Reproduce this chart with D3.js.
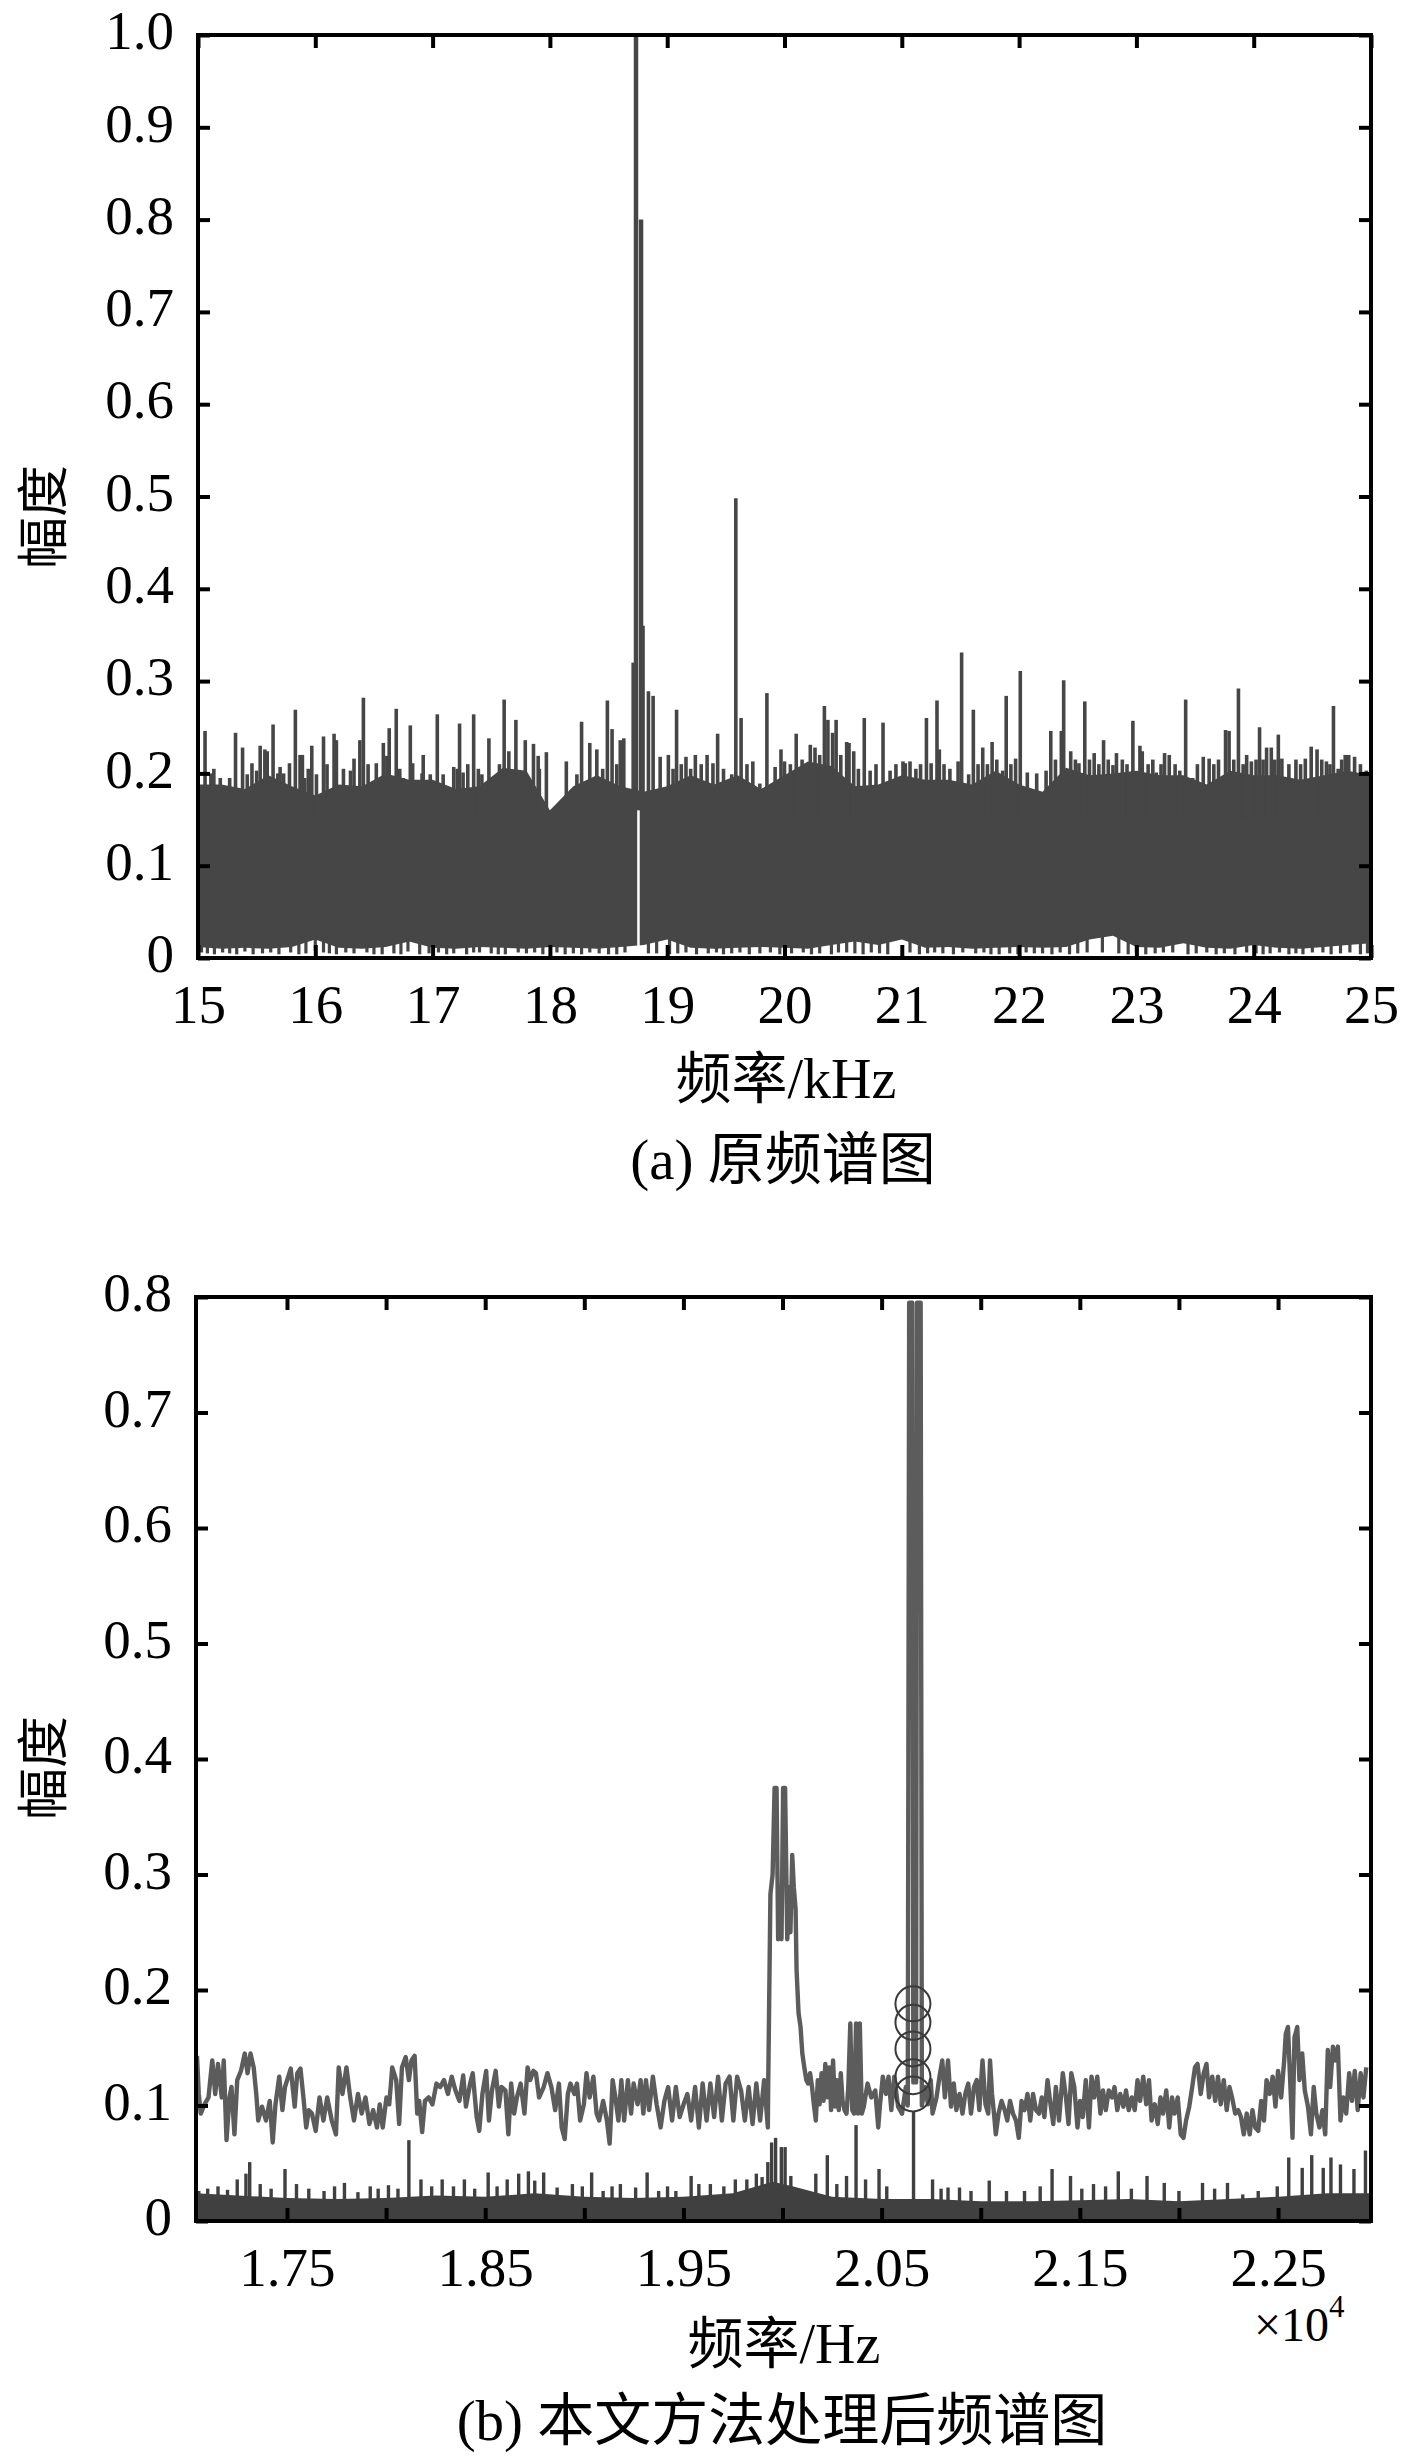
<!DOCTYPE html>
<meta charset="utf-8">
<style>
body { margin: 0; background: #fff; }
svg text { font-family: "Liberation Serif", "Noto Sans CJK SC", serif; fill: #000; }
</style>
<body>
<script src="https://d3js.org/d3.v7.min.js"></script>
<script>

// ---------- panel (a): original spectrum, kHz ----------
var gridA = [15.0,15.2,15.4,15.6,15.8,16.0,16.2,16.4,16.6,16.8,17.0,17.2,17.4,17.6,17.8,18.0,18.2,18.4,18.6,18.8,
             19.0,19.2,19.4,19.6,19.8,20.0,20.2,20.4,20.6,20.8,21.0,21.2,21.4,21.6,21.8,22.0,22.2,22.4,22.6,22.8,
             23.0,23.2,23.4,23.6,23.8,24.0,24.2,24.4,24.6,24.8,25.0];
// upper edge of the dense noise band
var bandTopA = [0.188,0.188,0.183,0.198,0.186,0.176,0.188,0.186,0.2,0.193,0.193,0.183,0.186,0.206,0.203,0.16,0.186,0.198,0.186,0.18,
                0.186,0.198,0.188,0.198,0.183,0.198,0.213,0.208,0.186,0.188,0.198,0.193,0.193,0.188,0.203,0.188,0.18,0.206,0.198,0.2,
                0.203,0.198,0.198,0.188,0.203,0.198,0.198,0.193,0.198,0.203,0.198];
// lower edge of the dense noise band
var bandBotA = [0.012,0.01,0.011,0.01,0.012,0.02,0.011,0.01,0.012,0.018,0.011,0.01,0.012,0.011,0.01,0.012,0.011,0.01,0.012,0.014,
                0.02,0.011,0.01,0.011,0.012,0.011,0.01,0.014,0.018,0.014,0.02,0.011,0.012,0.01,0.011,0.012,0.011,0.012,0.02,0.024,
                0.012,0.011,0.016,0.011,0.01,0.014,0.011,0.01,0.012,0.014,0.016];
// single lines sticking out of the band
var spikesA = [
  [15.06,0.246],[15.11,0.2],[15.135,0.205],[15.19,0.195],[15.27,0.195],[15.32,0.244],[15.38,0.228],[15.42,0.199],[15.46,0.211],
  [15.50,0.203],[15.53,0.230],[15.57,0.226],[15.59,0.224],[15.64,0.253],[15.68,0.2],[15.70,0.207],[15.73,0.2],[15.76,0.185],
  [15.78,0.211],[15.83,0.269],[15.87,0.22],[15.89,0.220],[15.91,0.195],[15.94,0.205],[15.97,0.230],[16.01,0.199],[16.07,0.240],
  [16.10,0.21],[16.16,0.243],[16.18,0.236],[16.24,0.205],[16.30,0.203],[16.33,0.216],[16.38,0.236],[16.41,0.282],[16.45,0.21],
  [16.52,0.211],[16.58,0.233],[16.61,0.219],[16.63,0.249],[16.69,0.270],[16.72,0.205],[16.75,0.195],[16.81,0.252],[16.83,0.211],
  [16.91,0.2],[16.92,0.220],[16.98,0.199],[17.04,0.264],[17.09,0.199],[17.18,0.207],[17.21,0.205],[17.23,0.254],[17.26,0.201],
  [17.30,0.21],[17.35,0.264],[17.39,0.205],[17.42,0.199],[17.48,0.238],[17.52,0.195],[17.57,0.21],[17.61,0.280],[17.65,0.224],
  [17.71,0.258],[17.79,0.236],[17.86,0.232],[17.90,0.219],[17.91,0.205],[17.97,0.223],[18.14,0.213],[18.23,0.199],[18.27,0.256],
  [18.34,0.233],[18.40,0.226],[18.45,0.205],[18.49,0.279],[18.53,0.248],[18.57,0.21],[18.60,0.236],[18.63,0.238],[18.71,0.320],
  [18.84,0.289],[18.88,0.284],[18.94,0.218],[19.01,0.22],[19.05,0.205],[19.08,0.269],[19.12,0.21],[19.16,0.218],[19.20,0.205],
  [19.24,0.22],[19.29,0.21],[19.34,0.22],[19.39,0.211],[19.43,0.243],[19.48,0.205],[19.55,0.199],[19.585,0.498],[19.63,0.26],
  [19.68,0.21],[19.73,0.213],[19.79,0.189],[19.85,0.287],[19.92,0.207],[19.97,0.226],[20.00,0.213],[20.05,0.21],[20.10,0.243],
  [20.15,0.215],[20.22,0.231],[20.26,0.228],[20.30,0.22],[20.34,0.273],[20.37,0.258],[20.41,0.244],[20.44,0.258],[20.48,0.22],
  [20.53,0.234],[20.55,0.233],[20.59,0.224],[20.63,0.205],[20.68,0.26],[20.73,0.203],[20.78,0.21],[20.84,0.255],[20.90,0.203],
  [20.95,0.21],[21.01,0.213],[21.03,0.211],[21.07,0.213],[21.12,0.205],[21.16,0.21],[21.21,0.26],[21.25,0.211],[21.30,0.279],
  [21.32,0.226],[21.36,0.21],[21.41,0.205],[21.48,0.213],[21.51,0.331],[21.57,0.199],[21.61,0.269],[21.65,0.21],[21.69,0.228],
  [21.73,0.21],[21.77,0.234],[21.81,0.215],[21.86,0.203],[21.89,0.284],[21.93,0.21],[21.97,0.216],[22.01,0.311],[22.07,0.201],
  [22.15,0.2],[22.23,0.203],[22.27,0.246],[22.31,0.215],[22.36,0.246],[22.38,0.301],[22.44,0.224],[22.48,0.215],[22.51,0.211],
  [22.56,0.278],[22.60,0.215],[22.64,0.222],[22.68,0.21],[22.72,0.236],[22.76,0.215],[22.80,0.209],[22.83,0.222],[22.88,0.215],
  [22.92,0.21],[22.97,0.257],[23.03,0.230],[23.05,0.224],[23.10,0.21],[23.14,0.215],[23.17,0.201],[23.21,0.21],[23.24,0.222],
  [23.28,0.22],[23.33,0.21],[23.37,0.203],[23.42,0.280],[23.48,0.195],[23.52,0.21],[23.57,0.218],[23.62,0.216],[23.66,0.21],
  [23.70,0.215],[23.76,0.247],[23.79,0.246],[23.83,0.215],[23.87,0.292],[23.91,0.21],[23.94,0.22],[23.98,0.213],[24.02,0.215],
  [24.05,0.250],[24.08,0.215],[24.11,0.228],[24.15,0.228],[24.18,0.215],[24.21,0.242],[24.24,0.216],[24.30,0.21],[24.36,0.215],
  [24.40,0.21],[24.44,0.216],[24.49,0.229],[24.54,0.226],[24.58,0.215],[24.62,0.213],[24.65,0.21],[24.68,0.273],[24.72,0.205],
  [24.75,0.215],[24.78,0.220],[24.81,0.22],[24.86,0.218],[24.91,0.21],[24.96,0.203]
];
// the main tone near 18.75 kHz
var peakA = [[18.734,1.0],[18.777,0.8],[18.79,0.36]];
var notchA = [[18.755,0.16]];
// lines that drop almost to zero
var dipsA = [
  [15.03,0.006],[15.08,0.005],[15.14,0.004],[15.21,0.006],[15.27,0.005],[15.33,0.004],[15.40,0.007],[15.47,0.004],[15.55,0.005],
  [15.62,0.006],[15.69,0.004],[15.79,0.006],[15.86,0.004],[15.92,0.005],[16.00,0.008],[16.07,0.006],[16.12,0.005],[16.18,0.004],
  [16.26,0.006],[16.33,0.005],[16.44,0.006],[16.50,0.004],[16.57,0.004],[16.67,0.005],[16.73,0.004],[16.79,0.007],[16.89,0.004],
  [16.97,0.005],[17.05,0.006],[17.12,0.004],[17.18,0.005],[17.29,0.004],[17.35,0.006],[17.40,0.006],[17.50,0.005],[17.56,0.004],
  [17.62,0.004],[17.73,0.006],[17.80,0.005],[17.87,0.006],[17.94,0.004],[18.06,0.006],[18.13,0.004],[18.20,0.005],[18.27,0.004],
  [18.34,0.006],[18.42,0.005],[18.50,0.004],[18.57,0.004],[18.64,0.006],[18.84,0.005],[18.91,0.005],[19.02,0.004],[19.09,0.005],
  [19.16,0.006],[19.25,0.004],[19.35,0.005],[19.42,0.006],[19.48,0.004],[19.55,0.005],[19.62,0.006],[19.70,0.004],[19.79,0.005],
  [19.88,0.006],[19.96,0.004],[20.06,0.005],[20.16,0.006],[20.23,0.004],[20.30,0.005],[20.40,0.004],[20.46,0.006],[20.53,0.006],
  [20.60,0.005],[20.67,0.004],[20.74,0.006],[20.81,0.005],[20.88,0.004],[21.07,0.006],[21.15,0.004],[21.22,0.005],[21.28,0.006],
  [21.35,0.005],[21.44,0.004],[21.52,0.006],[21.63,0.005],[21.70,0.006],[21.76,0.004],[21.83,0.004],[21.92,0.005],[21.99,0.004],
  [22.06,0.006],[22.13,0.005],[22.20,0.005],[22.28,0.004],[22.35,0.006],[22.43,0.004],[22.50,0.005],[22.58,0.006],[22.71,0.006],
  [22.85,0.005],[22.93,0.004],[23.00,0.006],[23.08,0.004],[23.16,0.005],[23.23,0.006],[23.31,0.006],[23.44,0.004],[23.51,0.005],
  [23.60,0.006],[23.68,0.004],[23.75,0.005],[23.84,0.004],[23.94,0.006],[24.02,0.005],[24.08,0.004],[24.14,0.005],[24.22,0.006],
  [24.30,0.004],[24.36,0.005],[24.42,0.004],[24.50,0.006],[24.59,0.006],[24.66,0.004],[24.74,0.005],[24.82,0.006],[24.91,0.004],
  [24.97,0.005]
];
var xTicksA = [15,16,17,18,19,20,21,22,23,24,25];
var yTicksA = [0,0.1,0.2,0.3,0.4,0.5,0.6,0.7,0.8,0.9,1.0];

// ---------- panel (b): processed spectrum, x10^4 Hz ----------
var traceB = [
  [1.7046,0.143],[1.7055,0.110],[1.7065,0.093],[1.7084,0.101],[1.7104,0.107],[1.7123,0.139],[1.7138,0.110],[1.7152,0.136],
  [1.7171,0.107],[1.7181,0.139],[1.7195,0.070],[1.7210,0.107],[1.7220,0.116],[1.7235,0.075],[1.7249,0.122],[1.7268,0.130],
  [1.7287,0.145],[1.7301,0.128],[1.7316,0.145],[1.7332,0.133],[1.7345,0.110],[1.7355,0.087],[1.7374,0.099],[1.7394,0.087],
  [1.7413,0.104],[1.7428,0.068],[1.7442,0.101],[1.7461,0.125],[1.7477,0.096],[1.7490,0.116],[1.7519,0.132],[1.7539,0.099],
  [1.7552,0.128],[1.7568,0.132],[1.7583,0.107],[1.7597,0.081],[1.7610,0.096],[1.7626,0.093],[1.7645,0.078],[1.7664,0.107],
  [1.7684,0.087],[1.7703,0.107],[1.7726,0.087],[1.7747,0.075],[1.7761,0.133],[1.7780,0.110],[1.7800,0.133],[1.7819,0.107],
  [1.7838,0.087],[1.7858,0.110],[1.7877,0.093],[1.7896,0.107],[1.7916,0.084],[1.7935,0.096],[1.7954,0.081],[1.7968,0.101],
  [1.7983,0.081],[1.8002,0.107],[1.8016,0.101],[1.8031,0.133],[1.8051,0.122],[1.8066,0.084],[1.8080,0.133],[1.8099,0.142],
  [1.8115,0.122],[1.8128,0.139],[1.8144,0.143],[1.8157,0.093],[1.8167,0.104],[1.8182,0.077],[1.8196,0.104],[1.8215,0.107],
  [1.8234,0.101],[1.8254,0.119],[1.8273,0.116],[1.8292,0.122],[1.8312,0.110],[1.8331,0.125],[1.8350,0.113],[1.8370,0.104],
  [1.8389,0.126],[1.8403,0.099],[1.8424,0.119],[1.8437,0.128],[1.8457,0.090],[1.8470,0.078],[1.8486,0.110],[1.8505,0.130],
  [1.8519,0.087],[1.8534,0.113],[1.8553,0.130],[1.8569,0.099],[1.8582,0.116],[1.8602,0.113],[1.8617,0.075],[1.8631,0.119],
  [1.8646,0.093],[1.8660,0.107],[1.8679,0.119],[1.8698,0.093],[1.8714,0.133],[1.8727,0.122],[1.8743,0.130],[1.8756,0.128],
  [1.8772,0.107],[1.8795,0.116],[1.8814,0.128],[1.8834,0.116],[1.8853,0.096],[1.8872,0.119],[1.8886,0.081],[1.8901,0.071],
  [1.8917,0.110],[1.8930,0.119],[1.8950,0.110],[1.8963,0.119],[1.8979,0.087],[1.8998,0.101],[1.9011,0.128],[1.9027,0.107],
  [1.9046,0.125],[1.9062,0.093],[1.9075,0.087],[1.9095,0.104],[1.9114,0.087],[1.9128,0.067],[1.9143,0.122],[1.9157,0.107],
  [1.9172,0.087],[1.9187,0.122],[1.9201,0.087],[1.9220,0.122],[1.9236,0.093],[1.9249,0.119],[1.9269,0.101],[1.9284,0.122],
  [1.9298,0.093],[1.9311,0.122],[1.9327,0.096],[1.9346,0.125],[1.9365,0.101],[1.9385,0.081],[1.9404,0.104],[1.9423,0.116],
  [1.9443,0.087],[1.9462,0.116],[1.9481,0.090],[1.9501,0.101],[1.9520,0.110],[1.9539,0.087],[1.9559,0.116],[1.9578,0.081],
  [1.9597,0.119],[1.9617,0.087],[1.9636,0.119],[1.9655,0.090],[1.9675,0.125],[1.9694,0.087],[1.9713,0.119],[1.9733,0.125],
  [1.9752,0.087],[1.9771,0.125],[1.9791,0.113],[1.9810,0.087],[1.9829,0.116],[1.9849,0.084],[1.9868,0.119],[1.9887,0.087],
  [1.9907,0.122],[1.9926,0.081],[1.9928,0.120],[1.9939,0.283],[1.9950,0.300],[1.9960,0.375],[1.9970,0.375],[1.9978,0.244],
  [1.9987,0.289],[1.9995,0.244],[2.0003,0.375],[2.0013,0.375],[2.0024,0.244],[2.0034,0.289],[2.0040,0.250],[2.0049,0.317],
  [2.0057,0.289],[2.0066,0.270],[2.0071,0.217],[2.0081,0.180],[2.0091,0.168],[2.0100,0.145],[2.0110,0.133],[2.0120,0.122],
  [2.0129,0.119],[2.0139,0.128],[2.0149,0.116],[2.0158,0.101],[2.0168,0.087],[2.0178,0.122],[2.0187,0.101],[2.0197,0.128],
  [2.0207,0.104],[2.0216,0.136],[2.0226,0.107],[2.0236,0.133],[2.0245,0.096],[2.0255,0.139],[2.0265,0.099],[2.0274,0.122],
  [2.0284,0.096],[2.0294,0.128],[2.0303,0.104],[2.0313,0.096],[2.0323,0.093],[2.0332,0.116],[2.0342,0.171],[2.0352,0.096],
  [2.0361,0.093],[2.0371,0.171],[2.0381,0.093],[2.0390,0.171],[2.0400,0.093],[2.0410,0.099],[2.0429,0.119],[2.0448,0.107],
  [2.0468,0.113],[2.0483,0.081],[2.0491,0.099],[2.0506,0.125],[2.0522,0.110],[2.0535,0.125],[2.0549,0.096],[2.0564,0.125],
  [2.0583,0.099],[2.0603,0.093],[2.0622,0.116],[2.0632,0.100],[2.0639,0.795],[2.0655,0.795],[2.0660,0.120],[2.0674,0.120],
  [2.0679,0.795],[2.0697,0.795],[2.0703,0.100],[2.0719,0.116],[2.0734,0.101],[2.0748,0.122],[2.0757,0.093],[2.0777,0.107],
  [2.0792,0.125],[2.0806,0.139],[2.0819,0.107],[2.0835,0.139],[2.0850,0.099],[2.0864,0.119],[2.0877,0.096],[2.0893,0.110],
  [2.0908,0.093],[2.0922,0.110],[2.0937,0.119],[2.0951,0.093],[2.0966,0.116],[2.0980,0.122],[2.0993,0.096],[2.1009,0.139],
  [2.1024,0.101],[2.1038,0.093],[2.1047,0.139],[2.1057,0.110],[2.1067,0.093],[2.1076,0.075],[2.1090,0.093],[2.1105,0.104],
  [2.1121,0.096],[2.1134,0.087],[2.1148,0.104],[2.1163,0.093],[2.1178,0.087],[2.1192,0.072],[2.1206,0.104],[2.1221,0.096],
  [2.1236,0.110],[2.1250,0.087],[2.1264,0.110],[2.1279,0.096],[2.1294,0.093],[2.1308,0.107],[2.1321,0.090],[2.1337,0.122],
  [2.1352,0.101],[2.1366,0.084],[2.1379,0.116],[2.1395,0.087],[2.1414,0.128],[2.1430,0.107],[2.1443,0.084],[2.1457,0.128],
  [2.1472,0.116],[2.1488,0.081],[2.1501,0.104],[2.1515,0.090],[2.1530,0.122],[2.1546,0.081],[2.1559,0.125],[2.1573,0.107],
  [2.1588,0.125],[2.1604,0.093],[2.1617,0.113],[2.1631,0.096],[2.1646,0.113],[2.1662,0.107],[2.1675,0.116],[2.1689,0.096],
  [2.1704,0.110],[2.1720,0.099],[2.1733,0.113],[2.1747,0.096],[2.1762,0.107],[2.1777,0.096],[2.1791,0.122],[2.1804,0.104],
  [2.1820,0.125],[2.1835,0.101],[2.1849,0.122],[2.1862,0.087],[2.1878,0.101],[2.1893,0.084],[2.1907,0.107],[2.1920,0.093],
  [2.1936,0.113],[2.1951,0.081],[2.1965,0.107],[2.1978,0.093],[2.1994,0.107],[2.2009,0.075],[2.2023,0.072],[2.2036,0.087],
  [2.2052,0.099],[2.2067,0.116],[2.2081,0.133],[2.2094,0.136],[2.2110,0.110],[2.2125,0.128],[2.2139,0.136],[2.2152,0.107],
  [2.2168,0.125],[2.2183,0.104],[2.2197,0.125],[2.2211,0.101],[2.2226,0.122],[2.2241,0.096],[2.2255,0.116],[2.2268,0.107],
  [2.2284,0.093],[2.2299,0.096],[2.2313,0.090],[2.2327,0.075],[2.2342,0.093],[2.2357,0.075],[2.2371,0.096],[2.2385,0.081],
  [2.2400,0.078],[2.2415,0.104],[2.2429,0.087],[2.2442,0.122],[2.2458,0.110],[2.2473,0.125],[2.2487,0.099],[2.2500,0.130],
  [2.2516,0.107],[2.2531,0.139],[2.2539,0.162],[2.2550,0.168],[2.2564,0.110],[2.2573,0.072],[2.2583,0.159],[2.2597,0.168],
  [2.2608,0.122],[2.2622,0.145],[2.2635,0.113],[2.2651,0.099],[2.2666,0.075],[2.2680,0.116],[2.2693,0.093],[2.2709,0.081],
  [2.2724,0.096],[2.2738,0.075],[2.2751,0.148],[2.2763,0.116],[2.2777,0.151],[2.2790,0.139],[2.2802,0.151],[2.2815,0.087],
  [2.2829,0.107],[2.2844,0.093],[2.2859,0.128],[2.2873,0.104],[2.2887,0.130],[2.2902,0.096],[2.2917,0.128],[2.2931,0.107],
  [2.2945,0.133]
];
// residual curve near zero: dense floor plus single lines
var floorB = [[1.7041,0.024],[1.725,0.022],[1.75,0.02],[1.775,0.019],[1.80,0.02],[1.825,0.022],[1.85,0.021],[1.875,0.024],
              [1.90,0.021],[1.925,0.02],[1.95,0.021],[1.975,0.024],[1.995,0.034],[2.005,0.03],[2.025,0.021],[2.05,0.019],
              [2.075,0.019],[2.10,0.017],[2.125,0.017],[2.15,0.018],[2.175,0.019],[2.20,0.017],[2.225,0.019],[2.25,0.021],
              [2.275,0.024],[2.2969,0.024]];
var residB = [
  [1.7055,0.026],[1.7100,0.028],[1.7152,0.030],[1.7200,0.027],[1.7249,0.036],[1.7293,0.041],[1.7312,0.051],[1.7365,0.032],
  [1.7420,0.028],[1.7490,0.045],[1.7548,0.032],[1.7610,0.028],[1.7687,0.026],[1.7740,0.03],[1.7790,0.033],[1.7858,0.025],
  [1.7920,0.03],[1.7960,0.028],[1.8012,0.031],[1.8060,0.028],[1.8115,0.070],[1.8176,0.036],[1.8230,0.03],[1.8283,0.036],
  [1.8340,0.03],[1.8395,0.036],[1.8447,0.028],[1.8515,0.042],[1.8560,0.03],[1.8611,0.036],[1.8669,0.041],[1.8718,0.043],
  [1.8750,0.035],[1.8795,0.042],[1.8863,0.029],[1.8940,0.032],[1.8990,0.03],[1.9037,0.042],[1.9095,0.026],[1.9140,0.03],
  [1.9182,0.032],[1.9259,0.029],[1.9317,0.042],[1.9375,0.026],[1.9420,0.03],[1.9462,0.026],[1.9539,0.039],[1.9578,0.032],
  [1.9636,0.032],[1.9704,0.030],[1.9762,0.036],[1.9820,0.036],[1.9868,0.041],[1.9897,0.038],[1.9926,0.051],[1.9945,0.068],
  [1.9965,0.072],[1.9994,0.064],[2.0013,0.064],[2.0042,0.039],[2.0100,0.023],[2.0168,0.041],[2.0226,0.057],[2.0274,0.032],
  [2.0323,0.039],[2.0371,0.083],[2.0419,0.036],[2.0487,0.045],[2.0526,0.030],[2.0661,0.095],[2.0757,0.036],[2.0800,0.028],
  [2.0835,0.029],[2.0893,0.029],[2.0951,0.026],[2.1043,0.035],[2.1130,0.026],[2.1221,0.026],[2.1300,0.03],[2.1360,0.045],
  [2.1453,0.039],[2.1510,0.028],[2.1569,0.032],[2.1630,0.03],[2.1694,0.043],[2.1760,0.028],[2.1839,0.039],[2.1926,0.033],
  [2.2000,0.026],[2.2119,0.033],[2.2180,0.028],[2.2245,0.033],[2.2322,0.023],[2.2400,0.026],[2.2496,0.030],[2.2554,0.055],
  [2.2622,0.046],[2.2670,0.057],[2.2728,0.046],[2.2767,0.055],[2.2815,0.049],[2.2883,0.045],[2.2941,0.061]
];
var markersB = [[2.0658,0.188],[2.0658,0.172],[2.0658,0.149],[2.0658,0.125],[2.0658,0.110]];
var xTicksB = [1.75,1.80,1.85,1.90,1.95,2.00,2.05,2.10,2.15,2.20,2.25];
var xLabelsB = ["1.75","","1.85","","1.95","","2.05","","2.15","","2.25"];
var yTicksB = [0,0.1,0.2,0.3,0.4,0.5,0.6,0.7,0.8];

// ---------- drawing ----------
var svg = d3.select("body").append("svg")
    .attr("width", 1417)
    .attr("height", 2458);

var ink = "#464646";

function yFmt(d) { return d === 0 ? "0" : d3.format(".1f")(d); }

// frame with inward ticks on all four sides
function drawFrame(x, y, xTicks, xFmt, yTicks) {
  var x0 = x.range()[0], x1 = x.range()[1], y0 = y.range()[0], y1 = y.range()[1];
  var g = svg.append("g");

  var bottom = g.append("g").attr("transform", "translate(0," + y0 + ")")
      .call(d3.axisBottom(x).tickValues(xTicks).tickFormat(xFmt)
            .tickSizeInner(-13).tickSizeOuter(0).tickPadding(26));
  var top = g.append("g").attr("transform", "translate(0," + y1 + ")")
      .call(d3.axisTop(x).tickValues(xTicks).tickFormat("")
            .tickSizeInner(-13).tickSizeOuter(0));
  var left = g.append("g").attr("transform", "translate(" + x0 + ",0)")
      .call(d3.axisLeft(y).tickValues(yTicks).tickFormat(yFmt)
            .tickSizeInner(-12).tickSizeOuter(0).tickPadding(24));
  var right = g.append("g").attr("transform", "translate(" + x1 + ",0)")
      .call(d3.axisRight(y).tickValues(yTicks).tickFormat("")
            .tickSizeInner(-12).tickSizeOuter(0));

  [bottom, top, left, right].forEach(function(a) {
    a.select(".domain").remove();
    a.selectAll(".tick line").attr("stroke", "#000").attr("stroke-width", 4);
    a.attr("font-size", 55).attr("font-family", null);
  });
  left.selectAll(".tick text").attr("dy", "0.25em");

  g.append("rect")
      .attr("x", x0).attr("y", y1)
      .attr("width", x1 - x0).attr("height", y0 - y1)
      .attr("fill", "none").attr("stroke", "#000").attr("stroke-width", 4);
}

function clipFor(id, x, y) {
  svg.append("clipPath").attr("id", id).append("rect")
      .attr("x", x.range()[0]).attr("y", y.range()[1])
      .attr("width", x.range()[1] - x.range()[0])
      .attr("height", y.range()[0] - y.range()[1]);
}

function vlines(g, data, x, y, base, color, width) {
  g.append("g").selectAll("line").data(data).enter().append("line")
      .attr("x1", function(d) { return x(d[0]); })
      .attr("x2", function(d) { return x(d[0]); })
      .attr("y1", y(base))
      .attr("y2", function(d) { return y(d[1]); })
      .attr("stroke", color).attr("stroke-width", width);
}

// ===== panel (a) =====
var xA = d3.scaleLinear().domain([15, 25]).range([198, 1371]);
var yA = d3.scaleLinear().domain([0, 1]).range([958, 35]);
clipFor("clipA", xA, yA);
var pA = svg.append("g").attr("clip-path", "url(#clipA)");

var band = gridA.map(function(f, i) { return {f: f, lo: bandBotA[i], hi: bandTopA[i]}; });
pA.append("path")
    .datum(band)
    .attr("fill", ink)
    .attr("d", d3.area()
        .x(function(d) { return xA(d.f); })
        .y0(function(d) { return yA(d.lo); })
        .y1(function(d) { return yA(d.hi); }));

vlines(pA, spikesA, xA, yA, 0.15, ink, 3.6);
vlines(pA, dipsA, xA, yA, 0.04, ink, 3.2);
vlines(pA, peakA, xA, yA, 0.15, ink, 4.5);
vlines(pA, notchA, xA, yA, 0, "#fff", 2.5);

drawFrame(xA, yA, xTicksA, d3.format("d"), yTicksA);

svg.append("text")
    .attr("transform", "translate(44,517) rotate(-90)")
    .attr("text-anchor", "middle").attr("dominant-baseline", "central")
    .attr("font-size", 52).text("幅度");
svg.append("text")
    .attr("x", 786).attr("y", 1098).attr("text-anchor", "middle")
    .attr("font-size", 56).text("频率/kHz");
svg.append("text")
    .attr("x", 783).attr("y", 1179).attr("text-anchor", "middle")
    .attr("font-size", 57).text("(a) 原频谱图");

// ===== panel (b) =====
var xB = d3.scaleLinear().domain([1.7041, 2.2969]).range([196, 1371]);
var yB = d3.scaleLinear().domain([0, 0.8]).range([2221, 1297]);
clipFor("clipB", xB, yB);
var pB = svg.append("g").attr("clip-path", "url(#clipB)");

pB.append("path")
    .datum(traceB)
    .attr("fill", "none")
    .attr("stroke", "#5c5c5c")
    .attr("stroke-width", 4.4)
    .attr("stroke-linejoin", "round")
    .attr("d", d3.line()
        .x(function(d) { return xB(d[0]); })
        .y(function(d) { return yB(d[1]); }));

pB.append("path")
    .datum(floorB)
    .attr("fill", "#404040")
    .attr("d", d3.area()
        .x(function(d) { return xB(d[0]); })
        .y0(yB(0))
        .y1(function(d) { return yB(d[1]); }));

vlines(pB, residB, xB, yB, 0, "#404040", 3.4);

pB.append("g").selectAll("circle").data(markersB).enter().append("circle")
    .attr("cx", function(d) { return xB(d[0]); })
    .attr("cy", function(d) { return yB(d[1]); })
    .attr("r", 17.5)
    .attr("fill", "none").attr("stroke", "#3a3a3a").attr("stroke-width", 2);

drawFrame(xB, yB, xTicksB, function(d, i) { return xLabelsB[i]; }, yTicksB);

svg.append("text")
    .attr("transform", "translate(44,1768) rotate(-90)")
    .attr("text-anchor", "middle").attr("dominant-baseline", "central")
    .attr("font-size", 52).text("幅度");
svg.append("text")
    .attr("x", 784).attr("y", 2363).attr("text-anchor", "middle")
    .attr("font-size", 56).text("频率/Hz");
var mult = svg.append("text").attr("x", 1254).attr("y", 2341).attr("font-size", 48);
mult.append("tspan").text("×10");
mult.append("tspan").attr("font-size", 31).attr("dy", -24).text("4");
svg.append("text")
    .attr("x", 782).attr("y", 2440).attr("text-anchor", "middle")
    .attr("font-size", 57).text("(b) 本文方法处理后频谱图");

</script>
</body>
